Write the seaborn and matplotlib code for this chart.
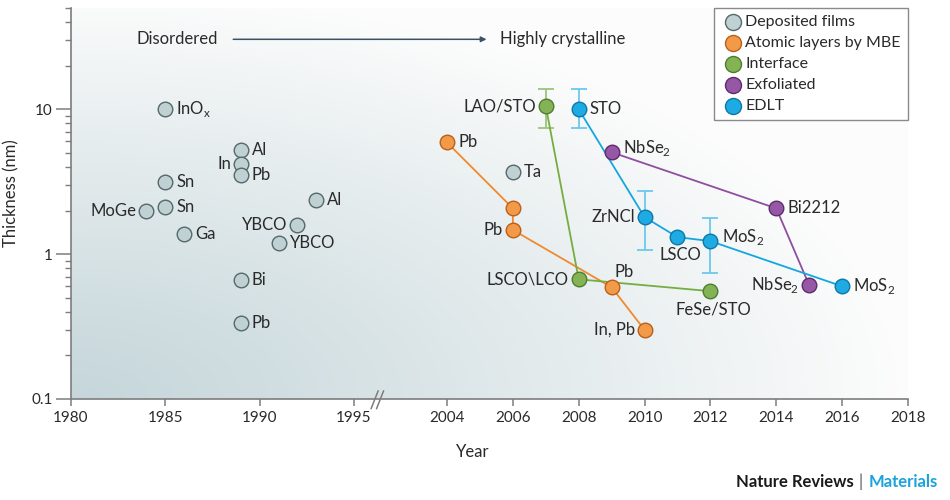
import numpy as np
import pandas as pd
import matplotlib
matplotlib.use("Agg")
import matplotlib.pyplot as plt
import seaborn as sns
from matplotlib.ticker import LogLocator, NullFormatter, NullLocator, FixedLocator, FixedFormatter

# ------------------------------------------------------------------ data
categories = ["Deposited films", "Atomic layers by MBE", "Interface", "Exfoliated", "EDLT"]

dep_year = [1985, 1985, 1985, 1984, 1986, 1989, 1989, 1989, 1993, 1992, 1991, 1989, 1989, 2006]
dep_thick = [10.0, 3.15, 2.1, 2.0, 1.37, 5.2, 4.2, 3.5, 2.35, 1.6, 1.2, 0.66, 0.335, 3.7]
dep_label = [r"InO$_\mathregular{x}$", "Sn", "Sn", "MoGe", "Ga", "Al", "In", "Pb", "Al",
             "YBCO", "YBCO", "Bi", "Pb", "Ta"]

mbe_year = [2004, 2006, 2006, 2009, 2010]
mbe_thick = [5.9, 2.07, 1.47, 0.59, 0.30]
mbe_label = ["Pb", "", "Pb", "Pb", "In, Pb"]

int_year = [2007, 2008, 2012]
int_thick = [10.5, 0.67, 0.555]
int_label = ["LAO/STO", "LSCO\\LCO", "FeSe/STO"]
int_err_lo = [7.4, np.nan, np.nan]
int_err_hi = [13.7, np.nan, np.nan]

exf_year = [2009, 2014, 2015]
exf_thick = [5.05, 2.07, 0.61]
exf_label = [r"NbSe$_\mathregular{2}$", "Bi2212", r"NbSe$_\mathregular{2}$"]

edlt_year = [2008, 2010, 2011, 2012, 2016]
edlt_thick = [10.0, 1.8, 1.31, 1.23, 0.60]
edlt_label = ["STO", "ZrNCl", "LSCO", r"MoS$_\mathregular{2}$", r"MoS$_\mathregular{2}$"]
edlt_err_lo = [7.4, 1.07, np.nan, 0.74, np.nan]
edlt_err_hi = [13.7, 2.72, np.nan, 1.77, np.nan]

x_ticks = [1980, 1985, 1990, 1995, 2004, 2006, 2008, 2010, 2012, 2014, 2016, 2018]
y_ticks = [0.1, 1, 10]
y_ticklabels = ["0.1", "1", "10"]

# ------------------------------------------------------------------ layout / style (not data)
label_place = {
    "Deposited films": ["r", "r", "r", "l", "r", "r", "l", "r", "r", "l", "r", "r", "r", "r"],
    "Atomic layers by MBE": ["r", "r", "l", "ar", "l"],
    "Interface": ["l", "l", "b"],
    "Exfoliated": ["r2", "r", "l"],
    "EDLT": ["r", "l", "b", "r2", "r"],
}
place_spec = {
    "r": ((8, 0), "left", "center"),
    "r2": ((8, 3), "left", "center"),
    "l": ((-7, 0), "right", "center"),
    "b": ((2, -13), "center", "center"),
    "ar": ((2, 11), "left", "center"),
}
fill_col = {"Deposited films": "#bfd1d3", "Atomic layers by MBE": "#f29a48",
            "Interface": "#84b356", "Exfoliated": "#9657a6", "EDLT": "#1eaae3"}
edge_col = {"Deposited films": "#55686a", "Atomic layers by MBE": "#b8601c",
            "Interface": "#4f7d2e", "Exfoliated": "#5e2c6c", "EDLT": "#0d78a8"}
line_col = {"Atomic layers by MBE": "#ef8a2e", "Interface": "#76ad42",
            "Exfoliated": "#8d4f9e", "EDLT": "#15a6e0"}
err_col = {"Interface": "#9cc47a", "EDLT": "#6cc8ee"}

sns.set_style("ticks")
plt.rcParams["font.family"] = ["Lato", "DejaVu Sans"]
plt.rcParams["mathtext.fontset"] = "custom"
plt.rcParams["mathtext.rm"] = "Lato"
TXT = "#2a2a2a"
LBL = 12

frames = []
for cat, yr, th, lb in [
    (categories[0], dep_year, dep_thick, dep_label),
    (categories[1], mbe_year, mbe_thick, mbe_label),
    (categories[2], int_year, int_thick, int_label),
    (categories[3], exf_year, exf_thick, exf_label),
    (categories[4], edlt_year, edlt_thick, edlt_label),
]:
    frames.append(pd.DataFrame({"year": yr, "thick": th, "label": lb, "cat": cat,
                                "order": range(len(yr))}))
df = pd.concat(frames, ignore_index=True)

fig = plt.figure(figsize=(9.5, 5.0), dpi=100)
rect = [71 / 950, 1 - 399 / 500, 837 / 950, 391 / 500]

# background gradient
bg = fig.add_axes(rect, zorder=0)
u = np.linspace(0, 1, 400)[None, :]
v = np.linspace(0, 1, 300)[:, None]
t = np.clip(np.sqrt((u * 1.0) ** 2 + (v * 0.95) ** 2), 0, 1) ** 1.1
dark = np.array([0.775, 0.84, 0.855])
img = dark[None, None, :] + (0.99 - dark)[None, None, :] * t[:, :, None]
bg.imshow(img, origin="lower", extent=[0, 1, 0, 1], aspect="auto", interpolation="bilinear")
bg.set_axis_off()

ax = fig.add_axes(rect, zorder=1)
ax.set_facecolor("none")

XP_YEARS = [1900, 1980, 1995, 2004, 2018, 2100]
XP_POS = [-80 * 18.87, 0, 283, 376, 837, 837 + 82 * 32.93]
ax.set_xscale("function", functions=(lambda x: np.interp(x, XP_YEARS, XP_POS),
                                     lambda p: np.interp(p, XP_POS, XP_YEARS)))
ax.set_yscale("log")

# connecting lines
for cat in categories[1:]:
    sub = df[df.cat == cat].sort_values("order")
    sns.lineplot(data=sub, x="year", y="thick", sort=False, estimator=None, ax=ax,
                 color=line_col[cat], lw=1.3, zorder=2, legend=False)

# error bars
for cat, yr, th, lo, hi in [(categories[2], int_year, int_thick, int_err_lo, int_err_hi),
                            (categories[4], edlt_year, edlt_thick, edlt_err_lo, edlt_err_hi)]:
    yr = np.array(yr, float); th = np.array(th); lo = np.array(lo); hi = np.array(hi)
    m = ~np.isnan(lo)
    ax.errorbar(yr[m], th[m], yerr=[th[m] - lo[m], hi[m] - th[m]], fmt="none",
                ecolor=err_col[cat], elinewidth=1.3, capsize=6, capthick=1.3, zorder=1.5)

# points
for cat in categories:
    sub = df[df.cat == cat]
    sns.scatterplot(data=sub, x="year", y="thick", ax=ax, s=110, color=fill_col[cat],
                    edgecolor=edge_col[cat], linewidth=1.0, zorder=3, label=cat)

# point labels
for cat in categories:
    sub = df[df.cat == cat].sort_values("order")
    for (_, r), pl in zip(sub.iterrows(), label_place[cat]):
        if not r.label:
            continue
        off, ha, va = place_spec[pl]
        ax.annotate(r.label, (r.year, r.thick), xytext=off, textcoords="offset points",
                    ha=ha, va=va, fontsize=LBL, color=TXT, zorder=4)

ax.set_xlim(1980, 2018)
ax.set_ylim(0.1, 50)

ax.xaxis.set_major_locator(FixedLocator(x_ticks))
ax.xaxis.set_major_formatter(FixedFormatter([str(x) for x in x_ticks]))
ax.xaxis.set_minor_locator(NullLocator())
ax.yaxis.set_major_locator(FixedLocator(y_ticks))
ax.yaxis.set_major_formatter(FixedFormatter(y_ticklabels))
ax.yaxis.set_minor_locator(LogLocator(base=10, subs=np.arange(2, 10)))
ax.yaxis.set_minor_formatter(NullFormatter())

GR = "#7d7d7d"
for s in ["top", "right"]:
    ax.spines[s].set_visible(False)
for s in ["left", "bottom"]:
    ax.spines[s].set_color(GR)
    ax.spines[s].set_linewidth(1.2)
ax.tick_params(axis="x", which="major", direction="out", length=5, width=1.1, color=GR,
               labelsize=11, labelcolor=TXT, pad=4)
ax.tick_params(axis="y", which="major", direction="out", length=11, width=1.1, color=GR,
               labelsize=11, labelcolor=TXT, pad=2)
ax.tick_params(axis="y", which="minor", direction="out", length=4.5, width=1.0, color=GR)

ax.set_xlabel("Year", fontsize=LBL, color=TXT)
ax.xaxis.set_label_coords((473 - 71) / 837, -0.115)
ax.set_ylabel("Thickness (nm)", fontsize=LBL, color=TXT)
ax.yaxis.set_label_coords(-0.062, (399 - 193) / 391)

# axis break mark
for dx in [0.0, 0.0065]:
    ax.plot([0.3585 + dx, 0.3670 + dx], [-0.025, 0.021], transform=ax.transAxes,
            color=GR, lw=1.1, clip_on=False, zorder=5)

# top annotation
ax.text(1987.8, 30.4, "Disordered", ha="right", va="center", fontsize=LBL, color=TXT)
ax.annotate("", xy=(2005.2, 30.4), xytext=(1988.6, 30.4),
            arrowprops=dict(arrowstyle="-|>", color="#3b5266", lw=1.1,
                            mutation_scale=8, shrinkA=0, shrinkB=0))
ax.text(2005.6, 30.4, "Highly crystalline", ha="left", va="center", fontsize=LBL, color=TXT)

# legend
leg = ax.legend(loc="upper right", bbox_to_anchor=(1.0, 1.0), borderaxespad=0,
                frameon=True, fancybox=False, edgecolor="#8a8a8a", framealpha=1,
                fontsize=11.5, handletextpad=0.05, labelspacing=0.42, borderpad=0.45,
                handlelength=1.45, markerscale=1.1)
leg.get_frame().set_linewidth(1.0)
for txt in leg.get_texts():
    txt.set_color(TXT)

# footer
fig.canvas.draw()
rend = fig.canvas.get_renderer()
t3 = fig.text(938 / 950, 1 - 482 / 500, "Materials", ha="right", va="center",
              fontsize=12, fontweight="bold", color="#1aa3dc")
fig.canvas.draw()
bb = t3.get_window_extent(rend)
t2 = fig.text((bb.x0 - 6) / 950, 1 - 482 / 500, "|", ha="right", va="center",
              fontsize=12, color="#555555")
fig.canvas.draw()
bb2 = t2.get_window_extent(rend)
fig.text((bb2.x0 - 5) / 950, 1 - 482 / 500, "Nature Reviews", ha="right", va="center",
         fontsize=12, fontweight="bold", color="#1a1a1a")

fig.savefig("out.png", dpi=100)
